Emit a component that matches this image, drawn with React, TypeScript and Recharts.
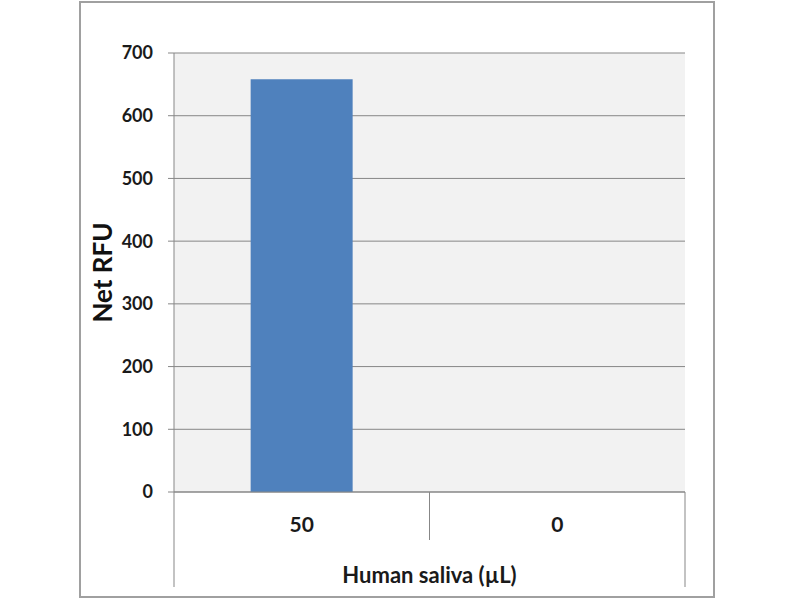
import React from "react";
import {
  BarChart,
  Bar,
  CartesianGrid,
  XAxis,
  YAxis,
} from "recharts";

const categories = ["50", "0"];
const netRfu = [658, 0];
const yTicks = [0, 100, 200, 300, 400, 500, 600, 700];

const data = categories.map((c, i) => ({ saliva: c, rfu: netRfu[i] }));

const W = 800;
const H = 600;
const margin = { top: 53, right: 115, left: 94, bottom: 8 };
const yAxisW = 80;
const plotW = W - margin.left - yAxisW - margin.right;
const band = plotW / categories.length;

const FONT = "Lato, 'Open Sans', sans-serif";
const GRID = "#878787";

function CategoryTick(props: any) {
  const { x, y, payload, index } = props;
  const last = index === categories.length - 1;
  return (
    <g>
      {index === 0 ? (
        <line x1={x - band / 2} x2={x - band / 2} y1={y} y2={y + 95} stroke={GRID} />
      ) : (
        <line x1={x - band / 2} x2={x - band / 2} y1={y} y2={y + 48} stroke={GRID} />
      )}
      {last && (
        <line x1={x + band / 2} x2={x + band / 2} y1={y} y2={y + 95} stroke={GRID} />
      )}
      <text
        x={x}
        y={y + 31}
        textAnchor="middle"
        dominantBaseline="central"
        fontFamily={FONT}
        fontWeight={700}
        fontSize={21}
        fill="#1a1a1a"
      >
        {payload.value}
      </text>
    </g>
  );
}

export default function App() {
  return (
    <div style={{ position: "absolute", left: 0, top: 0, width: W, height: H, background: "#fff" }}>
      <div
        style={{
          position: "absolute",
          left: 79,
          top: 1,
          width: 636,
          height: 597,
          boxSizing: "border-box",
          border: "2px solid #a0a0a0",
        }}
      />
      <div style={{ position: "absolute", left: 0, top: 0 }}>
        <BarChart width={W} height={H} data={data} margin={margin} barCategoryGap="30%">
          <CartesianGrid vertical={false} stroke={GRID} fill="#f2f2f2" />
          <XAxis
            dataKey="saliva"
            height={100}
            axisLine={{ stroke: GRID }}
            tickLine={false}
            tickSize={0}
            tickMargin={0}
            tick={<CategoryTick />}
            interval={0}
            label={{
              value: "Human saliva (µL)",
              position: "insideBottom",
              offset: 9,
              style: {
                fontFamily: FONT,
                fontWeight: 700,
                fontSize: 22,
                fill: "#1a1a1a",
              },
            }}
          />
          <YAxis
            width={yAxisW}
            domain={[0, 700]}
            ticks={yTicks}
            interval={0}
            axisLine={{ stroke: GRID }}
            tickLine={{ stroke: GRID }}
            tickSize={6}
            tickMargin={15}
            tick={{ fontFamily: FONT, fontWeight: 700, fontSize: 18, fill: "#1a1a1a" }}
            label={{
              value: "Net RFU",
              angle: -90,
              position: "insideLeft",
              offset: 9,
              style: {
                textAnchor: "middle",
                fontFamily: FONT,
                fontWeight: 700,
                fontSize: 26,
                fill: "#111",
              },
            }}
          />
          <Bar dataKey="rfu" fill="#4f81bd" isAnimationActive={false} />
        </BarChart>
      </div>
    </div>
  );
}
